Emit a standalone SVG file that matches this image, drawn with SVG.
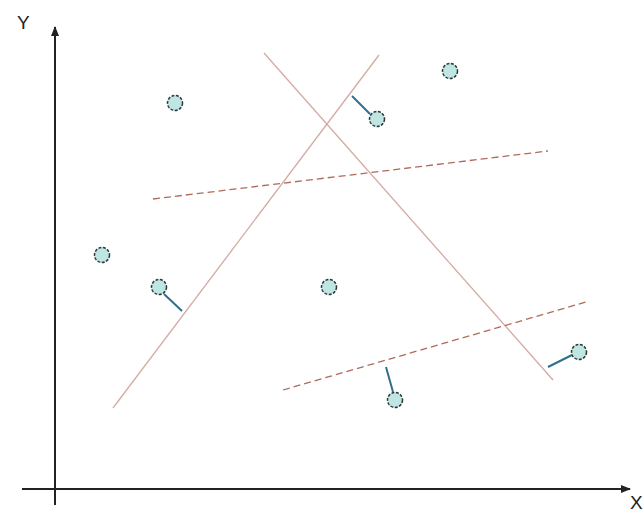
<svg xmlns="http://www.w3.org/2000/svg" width="644" height="517" viewBox="0 0 644 517">
<defs>
<marker id="ah" markerWidth="10" markerHeight="8" refX="9" refY="4" orient="auto" markerUnits="userSpaceOnUse">
<path d="M0,0 L10,4 L0,8 Z" fill="#222"/>
</marker>
<style>
.axis{stroke:#222;stroke-width:2;fill:none}
.sep{stroke:#d4aaa2;stroke-width:1.3;fill:none}
.sepd{stroke:#b06a5a;stroke-width:1.3;stroke-dasharray:7,4;fill:none}
.pt{fill:#bfe6e2;stroke:#2a3a3a;stroke-width:1.5;stroke-dasharray:3,1.5}
.sv{stroke:#2f6f8a;stroke-width:2;fill:none}
.lbl{font-family:"Liberation Sans",Arial,sans-serif;font-size:19px;fill:#222}
</style>
</defs>
<rect width="644" height="517" fill="#fff"/>
<g id="axes">
<line class="axis" x1="55" y1="505" x2="55" y2="27" marker-end="url(#ah)"/>
<line class="axis" x1="22" y1="489" x2="630" y2="489" marker-end="url(#ah)"/>
<text class="lbl" x="17" y="29">Y</text>
<text class="lbl" x="630" y="509">X</text>
</g>
<g id="connectors">
<line class="sep" x1="113" y1="408" x2="379" y2="55"/>
<line class="sep" x1="264" y1="53" x2="553" y2="380"/>
<line class="sepd" x1="153" y1="199" x2="548" y2="151"/>
<line class="sepd" x1="283" y1="390" x2="586" y2="302"/>
<line class="sv" x1="352" y1="96" x2="370" y2="114"/>
<line class="sv" x1="164" y1="294" x2="182" y2="311"/>
<line class="sv" x1="548" y1="367" x2="572" y2="355"/>
<line class="sv" x1="386" y1="367" x2="393" y2="392"/>
</g>
<g id="p1"><circle class="pt" cx="175" cy="103" r="7.5"/></g>
<g id="p2"><circle class="pt" cx="450" cy="71" r="7.5"/></g>
<g id="p3"><circle class="pt" cx="377" cy="119" r="7.5"/></g>
<g id="p4"><circle class="pt" cx="102" cy="255" r="7.5"/></g>
<g id="p5"><circle class="pt" cx="159" cy="287" r="7.5"/></g>
<g id="p6"><circle class="pt" cx="329" cy="287" r="7.5"/></g>
<g id="p7"><circle class="pt" cx="579" cy="352" r="7.5"/></g>
<g id="p8"><circle class="pt" cx="395" cy="400" r="7.5"/></g>
</svg>
